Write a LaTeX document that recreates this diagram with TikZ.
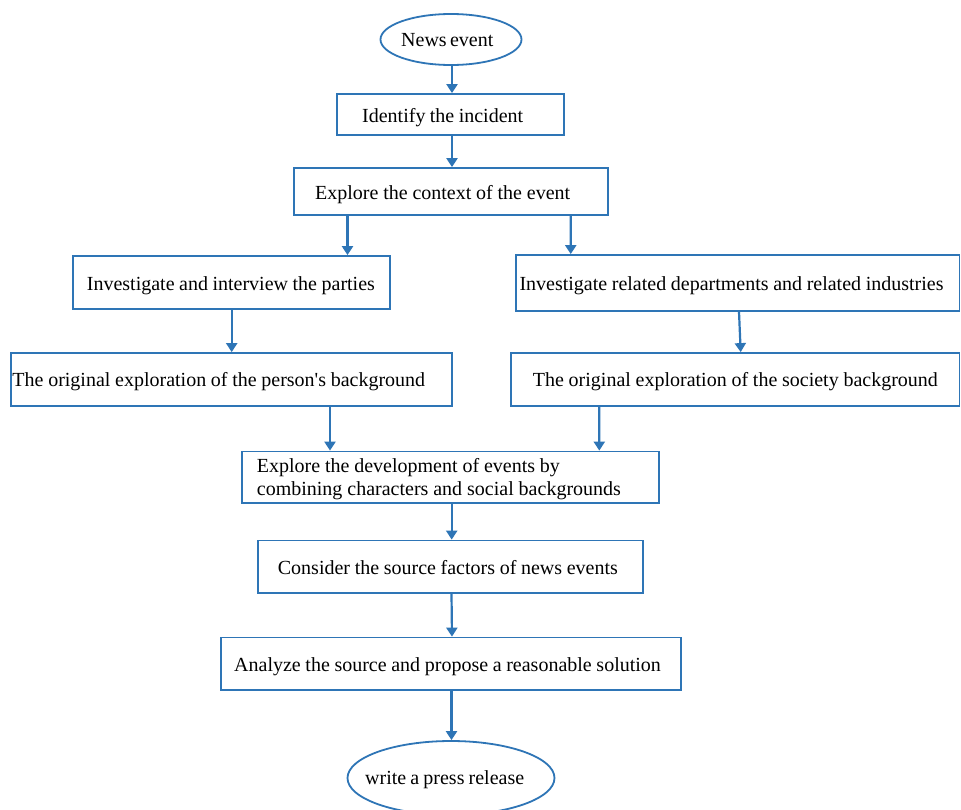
\documentclass[tikz,border=0pt]{standalone}
\usepackage{fontspec}
\setmainfont{Liberation Serif}
\usetikzlibrary{arrows.meta,shapes.geometric}
\definecolor{lineblue}{RGB}{46,117,182}
\newcommand{\fitw}[2]{\makebox[#1][s]{#2}}
\begin{document}
\begin{tikzpicture}[x=1pt,y=-1pt,
  box/.style={draw=lineblue, line width=1.8pt, rectangle, inner sep=0pt},
  oval/.style={draw=lineblue, line width=1.8pt, ellipse, inner sep=0pt},
  txt/.style={font=\fontsize{20}{22.7}\selectfont, inner sep=0pt, anchor=base west, align=left},
  arr/.style={draw=lineblue, line width=2.2pt, -{Triangle[width=11pt,length=9pt]}}]
\useasboundingbox (0,0) rectangle (961,809);
\fill[white] (0,0) rectangle (961,809);
% shapes
\node[oval, minimum width=141pt, minimum height=51pt] (e1) at (451,39.5) {};
\node[box, minimum width=227pt, minimum height=41pt] (b1) at (450.5,114.5) {};
\node[box, minimum width=314pt, minimum height=47pt] (b2) at (451,191.5) {};
\node[box, minimum width=317pt, minimum height=53pt] (b3) at (231.5,282.5) {};
\node[box, minimum width=443.5pt, minimum height=56pt] (b4) at (737.75,283) {};
\node[box, minimum width=441pt, minimum height=53pt] (b5) at (231.5,379.5) {};
\node[box, minimum width=448.5pt, minimum height=53pt] (b6) at (735.25,379.5) {};
\node[box, minimum width=417pt, minimum height=51.5pt] (b7) at (450.5,477.25) {};
\node[box, minimum width=385pt, minimum height=52.5pt] (b8) at (450.5,566.75) {};
\node[box, minimum width=460pt, minimum height=52.5pt] (b9) at (451,663.75) {};
\node[oval, minimum width=207pt, minimum height=74pt] (e2) at (451,778) {};
% texts
\node[txt] (t0) at (401,46.5) {\fitw{92pt}{News event}};
\node[txt] (t1) at (362,122.5) {\fitw{161pt}{Identify the incident}};
\node[txt] (t2) at (315,199) {\fitw{255pt}{Explore the context of the event}};
\node[txt] (t3) at (86.7,290) {\fitw{288pt}{Investigate and interview the parties}};
\node[txt] (t4) at (519.3,290) {\fitw{424pt}{Investigate related departments and related industries}};
\node[txt] (t5) at (12.3,386.7) {\fitw{412.7pt}{The original exploration of the person\textquotesingle s background}};
\node[txt] (t6) at (532.7,386.7) {\fitw{405pt}{The original exploration of the society background}};
\node[txt] (t7) at (256.7,495) {\fitw{303pt}{Explore the development of events by}\\\fitw{364pt}{combining characters and social backgrounds}};
\node[txt] (t8) at (277.7,574) {\fitw{340pt}{Consider the source factors of news events}};
\node[txt] (t9) at (234,671) {\fitw{426.7pt}{Analyze the source and propose a reasonable solution}};
\node[txt] (t10) at (365,784.3) {\fitw{159pt}{write a press release}};
% connectors
\draw[arr] ([xshift=1pt]e1.south) -- ([xshift=1.5pt]b1.north);
\draw[arr] ([xshift=1.5pt]b1.south) -- ([xshift=1pt]b2.north);
\draw[arr] ([xshift=-103.5pt]b2.south) -- ([xshift=116pt]b3.north);
\draw[arr] ([xshift=119.7pt]b2.south) -- ([xshift=-167pt]b4.north);
\draw[arr] ([xshift=0.2pt]b3.south) -- ([xshift=0.2pt]b5.north);
\draw[arr] ([xshift=1.25pt]b4.south) -- ([xshift=5.45pt]b6.north);
\draw[arr] ([xshift=98.5pt]b5.south) -- ([xshift=-120.5pt]b7.north);
\draw[arr] ([xshift=-136pt]b6.south) -- ([xshift=148.8pt]b7.north);
\draw[arr] ([xshift=1.2pt]b7.south) -- ([xshift=1.2pt]b8.north);
\draw[arr] ([xshift=1pt]b8.south) -- ([xshift=1pt]b9.north);
\draw[arr] ([xshift=0.5pt]b9.south) -- ([xshift=0.5pt]e2.north);
\end{tikzpicture}
\end{document}
